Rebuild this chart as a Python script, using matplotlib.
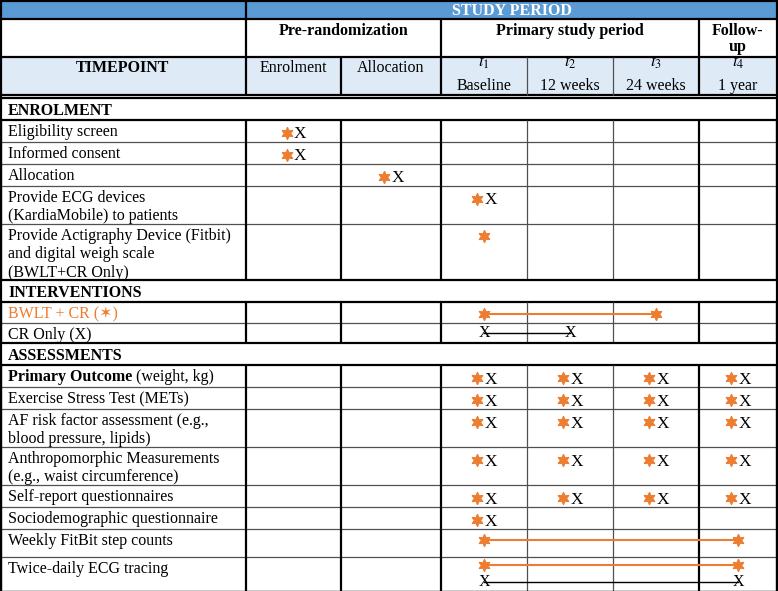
import matplotlib
matplotlib.use("Agg")
import matplotlib.pyplot as plt

plt.rcParams['font.family'] = ['Liberation Serif', 'DejaVu Sans']
plt.rcParams['mathtext.fontset'] = 'stix'

# ------------------------------------------------------------------ data
study_period = "STUDY PERIOD"
period_labels = ["Pre-randomization", "Primary study period", "Follow-", "up"]
timepoint_title = "TIMEPOINT"
timepoint_names = ["Enrolment", "Allocation", "$t_1$", "$t_2$", "$t_3$", "$t_4$"]
timepoint_sub = ["", "", "Baseline", "12 weeks", "24 weeks", "1 year"]

sections = ["ENROLMENT", "INTERVENTIONS", "ASSESSMENTS"]
enrolment_items = ["Eligibility screen", "Informed consent", "Allocation",
                   "Provide ECG devices\n(KardiaMobile) to patients",
                   "Provide Actigraphy Device (Fitbit)\nand digital weigh scale\n(BWLT+CR Only)"]
intervention_items = ["BWLT + CR (\u2736)", "CR Only (X)"]
assessment_items = ["Primary Outcome| (weight, kg)", "Exercise Stress Test (METs)",
                    "AF risk factor assessment (e.g.,\nblood pressure, lipids)",
                    "Anthropomorphic Measurements\n(e.g., waist circumference)",
                    "Self-report questionnaires", "Sociodemographic questionnaire",
                    "Weekly FitBit step counts", "Twice-daily ECG tracing"]

# per item, per timepoint column: 'SX' = star + X, 'S' = star only, '' = none
enrolment_marks = [
    ['SX', '', '', '', '', ''],
    ['SX', '', '', '', '', ''],
    ['', 'SX', '', '', '', ''],
    ['', '', 'SX', '', '', ''],
    ['', '', 'S', '', '', ''],
]
intervention_marks = [
    ['', '', '', '', '', ''],
    ['', '', '', '', '', ''],
]
assessment_marks = [
    ['', '', 'SX', 'SX', 'SX', 'SX'],
    ['', '', 'SX', 'SX', 'SX', 'SX'],
    ['', '', 'SX', 'SX', 'SX', 'SX'],
    ['', '', 'SX', 'SX', 'SX', 'SX'],
    ['', '', 'SX', 'SX', 'SX', 'SX'],
    ['', '', 'SX', '', '', ''],
    ['', '', '', '', '', ''],
    ['', '', '', '', '', ''],
]
# continuous spans: (section index, item index, symbol, start column, end column)
spans = [
    (1, 0, 'S', 2, 4),
    (1, 1, 'X', 2, 3),
    (2, 6, 'S', 2, 5),
    (2, 7, 'S', 2, 5),
    (2, 7, 'X', 2, 5),
]

# ------------------------------------------------------------------ layout
W, H = 778, 591
col_edges = [0, 246, 341, 441, 527, 613, 699, 777]
head_edges = [0, 19, 57, 95]
section_h = 22
item_heights = [
    [22, 22, 22, 38, 56],
    [21, 20],
    [22, 22, 38, 38, 22, 22, 28, 35],
]
BLUE = '#5B9BD5'
LIGHT = '#DEEBF7'
ORANGE = '#ED7D31'
GRAY = '#505050'
FS = 11.5
XFS = 12.5
LS = 18.3
STAR = dict(marker=(6, 1, 0), ms=9, color=ORANGE, mec=ORANGE, mew=0.8)

fig = plt.figure(figsize=(W / 100, H / 100), dpi=100)
ax = fig.add_axes([0, 0, 1, 1])
ax.set_xlim(0, W)
ax.set_ylim(H, 0)
ax.axis('off')

centers = [(col_edges[i] + col_edges[i + 1]) / 2 for i in range(1, 7)]


def hline(y, x0=0, x1=W, thick=True):
    ax.plot([x0, x1], [y, y], color='black' if thick else GRAY,
            lw=1.6 if thick else 0.9, solid_capstyle='butt', zorder=3)


def vline(x, y0, y1, thick=True):
    ax.plot([x, x], [y0, y1], color='black' if thick else GRAY,
            lw=1.6 if thick else 0.9, solid_capstyle='butt', zorder=3)


# header fills
ax.fill_between([0, W], head_edges[0], head_edges[1], color=BLUE, lw=0, zorder=0)
ax.fill_between([0, W], head_edges[2], head_edges[3], color=LIGHT, lw=0, zorder=0)

ax.text((col_edges[1] + col_edges[7]) / 2, 15, study_period, ha='center', va='baseline',
        fontsize=FS, fontweight='bold', color='white')
ax.text((col_edges[1] + col_edges[3]) / 2, 35, period_labels[0], ha='center', va='baseline',
        fontsize=FS, fontweight='bold')
ax.text((col_edges[3] + col_edges[6]) / 2, 35, period_labels[1], ha='center', va='baseline',
        fontsize=FS, fontweight='bold')
ax.text((col_edges[6] + col_edges[7]) / 2, 35, period_labels[2], ha='center', va='baseline',
        fontsize=FS, fontweight='bold')
ax.text((col_edges[6] + col_edges[7]) / 2, 51, period_labels[3], ha='center', va='baseline',
        fontsize=FS, fontweight='bold')
ax.text(col_edges[1] / 2, 72.5, timepoint_title, ha='center', va='baseline',
        fontsize=FS, fontweight='bold')
for i, c in enumerate(centers):
    if timepoint_sub[i]:
        ax.text(c, 66.5, timepoint_names[i], ha='center', va='baseline', fontsize=FS + 1)
        ax.text(c, 90.5, timepoint_sub[i], ha='center', va='baseline', fontsize=FS)
    else:
        ax.text(c, 72.5, timepoint_names[i], ha='center', va='baseline', fontsize=FS)

# header grid
hline(0.8)
hline(head_edges[1])
hline(head_edges[2])
hline(95)
hline(98)
vline(col_edges[1], 0, 95)
for x in (col_edges[3], col_edges[6]):
    vline(x, head_edges[1], 95)
vline(col_edges[2], head_edges[2], 95)
for x in (col_edges[4], col_edges[5]):
    vline(x, head_edges[2], 95, thick=False)
vline(0.8, 0, 98)
vline(W - 1, 0, 98)

# body
all_items = [enrolment_items, intervention_items, assessment_items]
all_marks = [enrolment_marks, intervention_marks, assessment_marks]
item_tops = {}
y = 98
for s, title in enumerate(sections):
    ax.text(8, y + 17, title, ha='left', va='baseline', fontsize=FS, fontweight='bold')
    y += section_h
    hline(y)
    for k, (label, h) in enumerate(zip(all_items[s], item_heights[s])):
        item_tops[(s, k)] = y
        color = ORANGE if s == 1 and k == 0 else 'black'
        for li, line in enumerate(label.split('\n')):
            by = y + 16 + LS * li
            if '|' in line:
                bold_part, rest = line.split('|')
                tb = ax.text(8, by, bold_part, ha='left', va='baseline', fontsize=FS,
                             fontweight='bold', color=color)
                ax.annotate(rest, xy=(1, by), xycoords=(tb, 'data'), ha='left',
                            va='baseline', fontsize=FS, color=color)
            else:
                ax.text(8, by, line, ha='left', va='baseline', fontsize=FS, color=color)
        for c, mark in enumerate(all_marks[s][k]):
            cx = centers[c]
            if mark == 'SX':
                ax.plot([cx - 6.5], [y + 13], zorder=4, **STAR)
                ax.text(cx + 6.5, y + 18.5, 'X', ha='center', va='baseline', fontsize=XFS)
            elif mark == 'S':
                ax.plot([cx], [y + 12], zorder=4, **STAR)
        vline(0.8, y, y + h)
        vline(W - 1, y, y + h)
        for ci in range(1, 7):
            vline(col_edges[ci], y, y + h, thick=ci not in (4, 5))
        y += h
        last = k == len(all_items[s]) - 1
        hline(y, thick=last)
vline(0.8, 98, y)
vline(W - 1, 98, y)
hline(y)

# spans
for s, k, sym, c0, c1 in spans:
    top = item_tops[(s, k)]
    xs = [centers[c0], centers[c1]]
    if sym == 'S':
        yy = top + (12 if s == 1 else (11 if k == 6 else 8))
        ax.plot(xs, [yy, yy], color=ORANGE, lw=1.5, zorder=4)
        ax.plot(xs, [yy, yy], ls='none', zorder=5, **STAR)
    else:
        yy = top + (10 if s == 1 else 25)
        ax.plot(xs, [yy, yy], color='black', lw=1.0, zorder=4)
        for xx in xs:
            ax.text(xx, yy, 'X', ha='center', va='center', fontsize=FS, zorder=5)

fig.savefig('out.png', dpi=100)
